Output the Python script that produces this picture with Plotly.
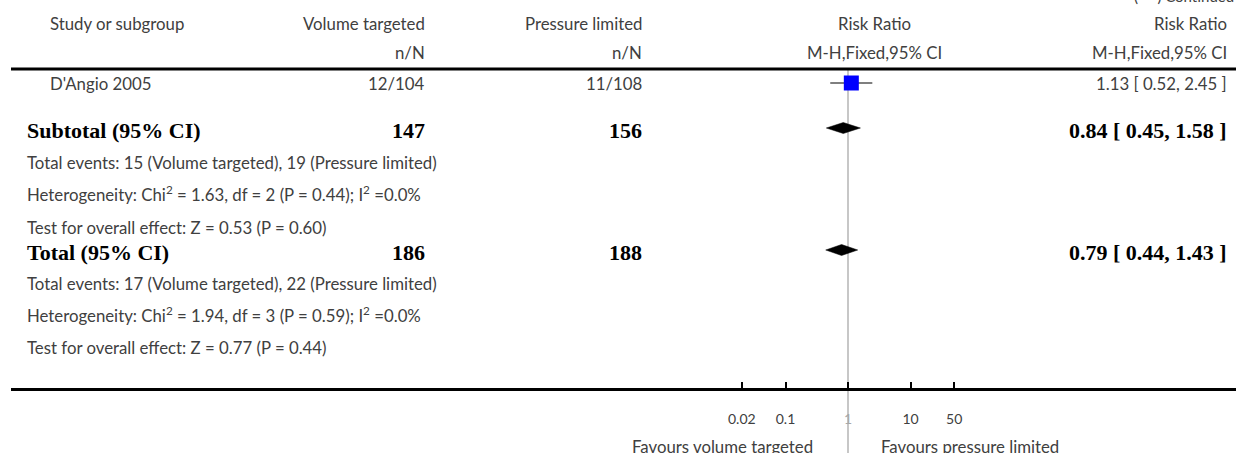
import plotly.graph_objects as go

W, H = 1236, 453

# ---------------- data ----------------
study_names = ["D'Angio 2005"]
vt_events = [12]
vt_totals = [104]
pl_events = [11]
pl_totals = [108]
study_rr = [1.13]
study_lo = [0.52]
study_hi = [2.45]

summary_labels = ["Subtotal (95% CI)", "Total (95% CI)"]
summary_vt_n = [147, 186]
summary_pl_n = [156, 188]
summary_rr = [0.84, 0.79]
summary_lo = [0.45, 0.44]
summary_hi = [1.58, 1.43]
summary_notes = [
    ["Total events: 15 (Volume targeted), 19 (Pressure limited)",
     "Heterogeneity: Chi<sup>2</sup> = 1.63, df = 2 (P = 0.44); I<sup>2</sup> =0.0%",
     "Test for overall effect: Z = 0.53 (P = 0.60)"],
    ["Total events: 17 (Volume targeted), 22 (Pressure limited)",
     "Heterogeneity: Chi<sup>2</sup> = 1.94, df = 3 (P = 0.59); I<sup>2</sup> =0.0%",
     "Test for overall effect: Z = 0.77 (P = 0.44)"],
]
tick_vals = [0.02, 0.1, 1, 10, 50]
tick_text = ["0.02", "0.1", "<span style='color:#a8a8a8'>1</span>", "10", "50"]

# ---------------- layout helpers ----------------
SANS = "Lato"
SERIF = "Liberation Serif"
TXT = "#404040"
FS = 16.8
FB = 22


def px(x):
    return x / W


def py(y):
    return 1 - y / H


ann = []


def text(s, x, y, anchor="left", font=SANS, size=FS, color=TXT, bold=False):
    if bold:
        s = "<b>" + s + "</b>"
    ann.append(dict(text=s, x=px(x), y=py(y), xref="paper", yref="paper",
                    xanchor=anchor, yanchor="middle", showarrow=False,
                    font=dict(family=font, size=size, color=color)))


# column positions
X_STUDY = 48
X_LEFT = 25
X_VT = 427
X_PL = 644
X_PLOT_C = 875
X_RR = 1229

# header
text("(· · ·) Continued", 1236, -4, "right", size=15)
text("Study or subgroup", X_STUDY, 23)
text("Volume targeted", X_VT, 23, "right")
text("Pressure limited", X_PL, 23, "right")
text("Risk Ratio", X_PLOT_C, 23, "center")
text("Risk Ratio", X_RR, 23, "right")
text("n/N", X_VT, 52, "right")
text("n/N", X_PL, 52, "right")
text("M-H,Fixed,95% CI", X_PLOT_C, 52, "center")
text("M-H,Fixed,95% CI", X_RR, 52, "right")

study_rows = [83]
for i, name in enumerate(study_names):
    yy = study_rows[i]
    text(name, X_STUDY, yy)
    text(f"{vt_events[i]}/{vt_totals[i]}", X_VT, yy, "right")
    text(f"{pl_events[i]}/{pl_totals[i]}", X_PL, yy, "right")
    text(f"{study_rr[i]:.2f} [ {study_lo[i]:.2f}, {study_hi[i]:.2f} ]", X_RR, yy, "right")

summary_rows = [131, 253]
summary_marks = [128, 250]
note_rows = [[162, 194, 227], [283, 314, 347]]
for i, lab in enumerate(summary_labels):
    yy = summary_rows[i]
    text(lab, X_LEFT, yy, font=SERIF, size=FB, color="black", bold=True)
    text(str(summary_vt_n[i]), X_VT, yy, "right", font=SERIF, size=FB, color="black", bold=True)
    text(str(summary_pl_n[i]), X_PL, yy, "right", font=SERIF, size=FB, color="black", bold=True)
    text(f"{summary_rr[i]:.2f} [ {summary_lo[i]:.2f}, {summary_hi[i]:.2f} ]", X_RR, yy,
         "right", font=SERIF, size=FB, color="black", bold=True)
    for s, ny in zip(summary_notes[i], note_rows[i]):
        text(s, X_LEFT, ny)

text("Favours volume targeted", 815, 446, "right")
text("Favours pressure limited", 879, 446, "left")

# ---------------- marks ----------------
fig = go.Figure()

for i in range(len(study_names)):
    yy = py(study_rows[i])
    fig.add_trace(go.Scatter(x=[study_lo[i], study_hi[i]], y=[yy, yy], mode="lines",
                             line=dict(color="#555555", width=1.5), showlegend=False,
                             hoverinfo="skip"))
    fig.add_trace(go.Scatter(x=[study_rr[i]], y=[yy], mode="markers",
                             marker=dict(symbol="square", size=15, color="#0000ff",
                                         line=dict(width=0)),
                             showlegend=False, hoverinfo="skip"))

half_h = 5.5 / H
for i in range(len(summary_labels)):
    yc = py(summary_marks[i])
    fig.add_trace(go.Scatter(
        x=[summary_lo[i], summary_rr[i], summary_hi[i], summary_rr[i], summary_lo[i]],
        y=[yc, yc + half_h, yc, yc - half_h, yc],
        mode="lines", fill="toself", fillcolor="black",
        line=dict(color="black", width=0.5), showlegend=False, hoverinfo="skip"))

# ---------------- axes / lines ----------------
DEC = 62.5
X_ONE = 848
x_left_px = 11
xr = [(x_left_px - X_ONE) / DEC, (W - X_ONE) / DEC]

shapes = [
    dict(type="line", xref="x", yref="paper", x0=1, x1=1, y0=0, y1=py(69),
         line=dict(color="#b4b4b4", width=1.5), layer="below"),
    dict(type="line", xref="paper", yref="paper", x0=px(x_left_px), x1=1,
         y0=py(69), y1=py(69), line=dict(color="black", width=3)),
]

fig.update_layout(
    width=W, height=H,
    margin=dict(l=0, r=0, t=0, b=0),
    paper_bgcolor="white", plot_bgcolor="white",
    showlegend=False,
    annotations=ann,
    shapes=shapes,
    xaxis=dict(type="log", domain=[px(x_left_px), 1], range=xr,
               anchor="free", position=py(389),
               showline=True, linecolor="black", linewidth=3,
               showgrid=False, zeroline=False,
               tickvals=tick_vals, ticktext=tick_text,
               ticks="inside", ticklen=6, tickwidth=2, tickcolor="black",
               ticklabelstandoff=16,
               tickfont=dict(family=SANS, size=14, color=TXT)),
    yaxis=dict(domain=[0, 1], range=[0, 1], visible=False, fixedrange=True),
)

fig.write_html("out.html",
               config={"displayModeBar": False},
               post_script="document.body.style.margin='0px';"
                           "document.body.style.overflow='hidden';")
